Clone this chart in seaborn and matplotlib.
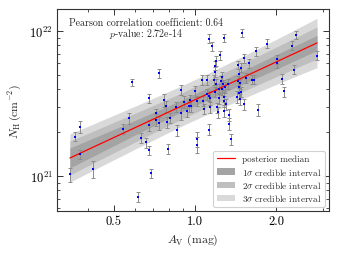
import numpy as np
import pandas as pd
import matplotlib
matplotlib.use("Agg")
import matplotlib.pyplot as plt
import seaborn as sns
from matplotlib.ticker import FixedLocator, FormatStrFormatter, LogLocator, NullFormatter
from matplotlib.patches import Patch
from matplotlib.lines import Line2D

# ---------------- data ----------------
av = [0.344, 0.359, 0.373, 0.373, 0.418, 0.539, 0.569, 0.584, 0.614, 0.628,
      0.659, 0.675, 0.675, 0.675, 0.689, 0.733, 0.781, 0.715, 0.735, 0.792,
      0.810, 0.789, 0.769, 0.855, 0.888, 0.932, 0.969, 1.020, 1.020, 1.078,
      1.140, 1.204, 1.282, 1.130, 1.334, 1.365, 1.334, 1.221, 0.850, 0.908,
      0.953, 0.958, 1.015, 1.074, 1.137, 1.228, 1.282, 1.282, 1.106, 1.131,
      1.190, 1.194, 1.250, 1.275, 1.290, 1.257, 1.264, 1.180, 1.108, 1.065,
      1.003, 0.884, 1.187, 1.190, 1.200, 1.244, 1.157, 1.127, 1.279, 1.502,
      1.449, 1.489, 1.588, 1.682, 1.853, 2.365, 2.291, 2.018, 2.027, 2.842,
      2.330, 2.107, 2.138, 1.711, 1.521, 1.462, 1.449, 1.454, 1.470, 1.462,
      1.429, 1.550, 1.625, 1.664, 1.466, 1.479, 1.525, 0.716, 1.330, 1.232,
      1.304]
nh_1e21 = [1.03, 1.873, 2.184, 1.418, 1.118, 2.110, 2.512, 4.436, 0.719, 1.843,
           1.707, 3.435, 2.247, 1.506, 1.049, 5.132, 3.025, 2.445, 2.309, 1.548,
           2.512, 2.357, 3.344, 2.076, 2.719, 2.794, 3.054, 1.800, 1.649, 2.898,
           2.977, 2.977, 2.820, 2.093, 2.302, 1.800, 2.647, 2.750, 2.991, 3.253,
           3.025, 3.344, 3.307, 3.307, 3.451, 3.435, 3.274, 3.524, 3.660, 3.580,
           3.796, 4.289, 4.542, 4.289, 4.090, 3.981, 4.840, 4.615, 4.615, 4.630,
           3.857, 3.951, 5.256, 5.764, 6.261, 6.832, 7.883, 8.877, 8.990, 9.687,
           5.847, 5.602, 5.987, 7.244, 8.201, 9.415, 7.919, 6.392, 6.016, 6.756,
           5.409, 4.704, 3.838, 2.866, 3.128, 5.028, 4.542, 4.110, 4.358, 3.718,
           3.524, 4.741, 4.630, 4.630, 3.396, 3.814, 6.483, 2.706, 4.310, 3.980,
           3.138]
nh_relerr = [0.11, 0.07, 0.09, 0.07, 0.13, 0.08, 0.09, 0.06, 0.08, 0.08,
             0.08, 0.07, 0.09, 0.07, 0.07, 0.07, 0.08, 0.09, 0.10, 0.08,
             0.08, 0.09, 0.10, 0.09, 0.10, 0.08, 0.09, 0.12, 0.12, 0.08,
             0.09, 0.08, 0.09, 0.09, 0.10, 0.09, 0.09, 0.09, 0.08, 0.09,
             0.08, 0.09, 0.08, 0.08, 0.10, 0.09, 0.09, 0.08, 0.08, 0.08,
             0.08, 0.09, 0.08, 0.08, 0.08, 0.09, 0.08, 0.08, 0.08, 0.08,
             0.09, 0.08, 0.08, 0.07, 0.08, 0.07, 0.07, 0.07, 0.06, 0.06,
             0.07, 0.07, 0.07, 0.07, 0.07, 0.06, 0.07, 0.07, 0.07, 0.07,
             0.07, 0.08, 0.08, 0.09, 0.09, 0.08, 0.08, 0.09, 0.08, 0.09,
             0.09, 0.08, 0.07, 0.07, 0.09, 0.08, 0.07, 0.08, 0.08, 0.08,
             0.09]

# posterior model (power law in log-log) and credible bands (dex half-widths)
fit_slope = 0.864
fit_logN_at_av1 = 21.526
band_av = [0.343, 0.45, 0.6, 0.8, 0.92, 1.1, 1.5, 2.0, 2.842]
band1_dex = [0.069, 0.060, 0.050, 0.043, 0.041, 0.042, 0.046, 0.050, 0.052]
band2_dex = [0.117, 0.108, 0.099, 0.092, 0.090, 0.091, 0.096, 0.102, 0.110]
band3_dex = [0.166, 0.157, 0.148, 0.141, 0.139, 0.140, 0.146, 0.155, 0.170]

x_ticks = [0.5, 1.0, 2.0]
annot = "Pearson correlation coefficient: 0.64\n$p$-value: 2.72e-14"

# ---------------- style ----------------
sns.set_theme(style="ticks")
plt.rcParams["font.family"] = ["cmr10", "DejaVu Serif"]
plt.rcParams["mathtext.fontset"] = "cm"
plt.rcParams["axes.formatter.use_mathtext"] = True
plt.rcParams["axes.unicode_minus"] = False

df = pd.DataFrame({"av": av, "nh": np.array(nh_1e21) * 1e21})
df["err"] = df["nh"] * np.array(nh_relerr)

bx = np.array(band_av)
med_log = fit_logN_at_av1 + fit_slope * np.log10(bx)
model = pd.DataFrame({"av": bx, "nh": 10 ** med_log})

fig = plt.figure(figsize=(3.39, 2.55), dpi=100)
ax = fig.add_axes([0.168, 0.1686, 0.8025, 0.7922])

c1, c2, c3 = "#a4a4a4", "#bfbfbf", "#d9d9d9"
ax.fill_between(bx, 10 ** (med_log - np.array(band3_dex)), 10 ** (med_log + np.array(band3_dex)),
                color=c3, lw=0, zorder=1)
ax.fill_between(bx, 10 ** (med_log - np.array(band2_dex)), 10 ** (med_log + np.array(band2_dex)),
                color=c2, lw=0, zorder=1.1)
ax.fill_between(bx, 10 ** (med_log - np.array(band1_dex)), 10 ** (med_log + np.array(band1_dex)),
                color=c1, lw=0, zorder=1.2)

ax.errorbar(df["av"], df["nh"], yerr=df["err"], fmt="none", ecolor="#8c8c8c",
            elinewidth=0.7, capsize=1.4, capthick=0.7, zorder=2)
sns.lineplot(data=model, x="av", y="nh", color="red", lw=0.9, ax=ax, zorder=3)
sns.scatterplot(data=df, x="av", y="nh", color="blue", marker="s", s=4.5,
                linewidth=0, ax=ax, zorder=4)

ax.set_xscale("log")
ax.set_yscale("log")
ax.set_xlim(0.307, 3.15)
ax.set_ylim(10 ** 20.759, 10 ** 22.152)

ax.xaxis.set_major_locator(FixedLocator(x_ticks))
ax.xaxis.set_major_formatter(FormatStrFormatter("%.1f"))
ax.xaxis.set_minor_locator(LogLocator(base=10, subs=np.arange(2, 10) * 1.0))
ax.xaxis.set_minor_formatter(NullFormatter())
ax.yaxis.set_major_locator(LogLocator(base=10))
ax.yaxis.set_minor_locator(LogLocator(base=10, subs=np.arange(2, 10) * 1.0))
ax.yaxis.set_minor_formatter(NullFormatter())

ax.tick_params(which="both", direction="in", top=True, right=True, colors="#333333",
               labelcolor="black", labelsize=9, pad=3)
ax.tick_params(which="major", length=4, width=0.7)
ax.tick_params(which="minor", length=2, width=0.6)
for s in ax.spines.values():
    s.set_linewidth(0.8)
    s.set_color("#333333")

ax.set_xlabel(r"$A_{\rm V}$ (mag)", fontsize=8.5, labelpad=3)
ax.set_ylabel(r"$N_{\rm H}\,(\rm cm^{-2})$", fontsize=8.5, labelpad=4)

ax.text(0.328, 0.958, annot, transform=ax.transAxes, ha="center", va="top",
        multialignment="center", fontsize=7.1, linespacing=0.95)

handles = [Line2D([], [], color="red", lw=0.9),
           Patch(color=c1, lw=0), Patch(color=c2, lw=0), Patch(color=c3, lw=0)]
labels = ["posterior median", r"1$\sigma$ credible interval",
          r"2$\sigma$ credible interval", r"3$\sigma$ credible interval"]
leg = ax.legend(handles, labels, loc="lower right", fontsize=6.6, frameon=True,
                fancybox=True, framealpha=0.9, edgecolor="#cccccc",
                borderpad=0.4, labelspacing=0.25, handlelength=2.0, handletextpad=0.7,
                borderaxespad=0.45)
leg.get_frame().set_linewidth(0.8)

fig.savefig("out.png", dpi=100)
